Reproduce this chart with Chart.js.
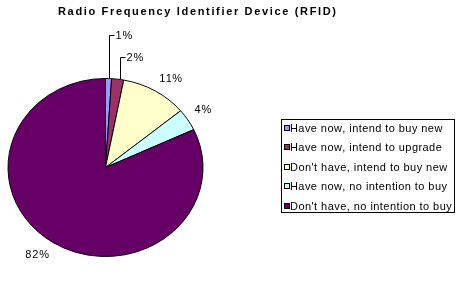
<!DOCTYPE html>
<html><head><meta charset="utf-8">
<script src="https://cdn.jsdelivr.net/npm/chart.js@4"></script>
<style>html,body{margin:0;padding:0;background:#fff}#wrap{width:460px;height:296px;position:relative}</style>
</head><body><div id="wrap"><canvas id="c"></canvas></div>
<script>
// ---- data ----
const titleText = 'Radio Frequency Identifier Device (RFID)';
const categories = [
  'Have now, intend to buy new',
  'Have now, intend to upgrade',
  "Don't have, intend to buy new",
  'Have now, no intention to buy',
  "Don't have, no intention to buy"
];
const values = [1, 2, 11, 4, 82];
const valueLabels = ['1%', '2%', '11%', '4%', '82%'];
const colors = ['#9999FF', '#993366', '#FFFFCC', '#CCFFFF', '#660066'];

// ---- layout / style ----
const FONT = '"Liberation Sans", Arial, sans-serif';
const Y_SCALE = 0.913;                 // Excel pie is slightly elliptical
const leaderLabelY = {0: 35, 1: 57};    // small slices use leader lines
const leaderShift = {0: 0, 1: 2};

function spacedText(ctx, text, x, y, targetWidth) {
  const chars = [...text];
  const natural = chars.reduce((s, c) => s + ctx.measureText(c).width, 0);
  const gap = targetWidth ? (targetWidth - natural) / (chars.length - 1) : 0;
  let cx = x;
  ctx.textAlign = 'left';
  for (const c of chars) { ctx.fillText(c, cx, y); cx += ctx.measureText(c).width + gap; }
}

const ellipsePlugin = {
  id: 'ellipse',
  beforeDatasetsDraw(chart) {
    const a = chart.getDatasetMeta(0).data[0];
    const ctx = chart.ctx;
    ctx.save();
    ctx.translate(a.x, a.y); ctx.scale(1, Y_SCALE); ctx.translate(-a.x, -a.y);
  },
  afterDatasetsDraw(chart) { chart.ctx.restore(); }
};

const decorPlugin = {
  id: 'decor',
  afterDraw(chart) {
    const ctx = chart.ctx;
    ctx.save();
    ctx.fillStyle = '#000';
    ctx.textBaseline = 'middle';
    // title
    ctx.font = 'bold 11px ' + FONT;
    spacedText(ctx, titleText, 58, 11.5, 278);

    // value labels
    ctx.font = '11px ' + FONT;
    ctx.strokeStyle = '#000'; ctx.lineWidth = 1;
    const meta = chart.getDatasetMeta(0);
    meta.data.forEach((arc, i) => {
      const p = arc.getProps(['x', 'y', 'startAngle', 'endAngle', 'outerRadius'], true);
      const mid = (p.startAngle + p.endAngle) / 2;
      const ux = Math.cos(mid), uy = Math.sin(mid);
      const ax = p.x + ux * p.outerRadius, ay = p.y + uy * p.outerRadius * Y_SCALE;
      const txt = valueLabels[i];
      const w = ctx.measureText(txt).width + (txt.length - 1) * 0.8;
      if (leaderLabelY[i] !== undefined) {
        const ly = leaderLabelY[i] + 0.5;
        const lx = Math.round(ax) + leaderShift[i] + 0.5;
        ctx.beginPath();
        ctx.moveTo(lx, ay); ctx.lineTo(lx, ly); ctx.lineTo(lx + 5, ly);
        ctx.stroke();
        spacedText(ctx, txt, lx + 6, ly, w);
      } else {
        const h = 11;
        const cx = ax + ux * 8 + Math.sign(ux) * w / 2;
        const cy = ay + uy * 8 + Math.sign(uy) * h / 2;
        spacedText(ctx, txt, cx - w / 2, cy, w);
      }
    });

    // legend
    const L = {left: 281.5, top: 119.5, right: 454.5, bottom: 212.5};
    ctx.strokeRect(L.left, L.top, L.right - L.left, L.bottom - L.top);
    const rowH = 19.5, firstY = 128.5;
    categories.forEach((name, i) => {
      const y = firstY + i * rowH;
      ctx.fillStyle = colors[i];
      ctx.fillRect(284.5, Math.round(y) - 3.5, 5, 5);
      ctx.strokeRect(284.5, Math.round(y) - 3.5, 5, 5);
      ctx.fillStyle = '#000';
      const natural = ctx.measureText(name).width;
      spacedText(ctx, name, 290, y, natural + (name.length - 1) * 0.45);
    });
    ctx.restore();
  }
};

new Chart(document.getElementById('c'), {
  type: 'pie',
  data: {
    labels: categories,
    datasets: [{
      data: values,
      backgroundColor: colors,
      borderColor: '#000',
      borderWidth: 1
    }]
  },
  options: {
    responsive: true,
    maintainAspectRatio: false,
    animation: false,
    events: [],
    layout: {padding: {left: 7.5, right: 256.5, top: 69.5, bottom: 30.5}},
    plugins: {legend: {display: false}, title: {display: false}, tooltip: {enabled: false}}
  },
  plugins: [ellipsePlugin, decorPlugin]
});
</script></body></html>
